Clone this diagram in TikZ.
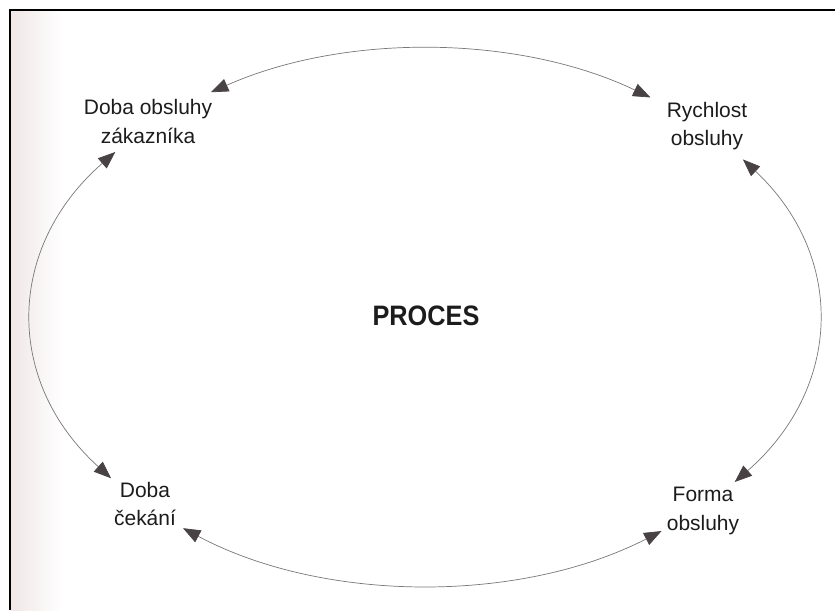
\documentclass[tikz,border=0pt]{standalone}
\usepackage{fontspec}
\setmainfont{Liberation Sans}
\usetikzlibrary{arrows.meta,calc}

\definecolor{inkline}{RGB}{120,120,120}
\definecolor{inkhead}{RGB}{72,66,68}
\definecolor{inktext}{RGB}{28,28,28}
\definecolor{edgehaze}{RGB}{240,231,231}

\tikzset{
  label/.style={align=center, inner sep=0pt, text=inktext,
    font=\fontsize{17.9}{24.2}\selectfont},
  title/.style={inner sep=0pt, text=inktext, xscale=0.9,
    font=\fontsize{24}{28}\selectfont\bfseries},
  link/.style={draw=inkline, line width=0.6pt,
    {Triangle[length=0.52cm,width=0.4cm,fill=inkhead,color=inkhead]}-%
    {Triangle[length=0.52cm,width=0.4cm,fill=inkhead,color=inkhead]}},
  frame/.style={draw=black, line width=1.7pt}
}

\begin{document}
\begin{tikzpicture}[x=0.03cm,y=0.03cm]
  \useasboundingbox (0,0) rectangle (835,610);
  \fill[white] (0,0) rectangle (835,610);

  % greyish strip along the left edge of the page
  \shade[left color=edgehaze, right color=white] (11,0) rectangle (62,600);

  % page frame: top and left rules
  \draw[frame] (10,0) -- (10,600) -- (835,600);

  % centre of the cycle
  \coordinate (c) at (425,293);
  \node[title] (proc) at (426,294) {PROCES};

  % the four stations
  \node[label] (wait)  at (148,488.5) {Doba obsluhy\\zákazníka};
  \node[label] (speed) at (707,484)   {Rychlost\\obsluhy};
  \node[label] (delay) at (145,106)   {Doba\\čekání};
  \node[label] (form)  at (703,99)    {Forma\\obsluhy};

  % arc end points on the ellipse (radii 11.79cm and 8.04cm)
  \coordinate (t1) at ($(c)+(123:11.79cm and 8.04cm)$);
  \coordinate (r1) at ($(c)+(36:11.79cm and 8.04cm)$);
  \coordinate (b1) at ($(c)+(-53:11.79cm and 8.04cm)$);
  \coordinate (l1) at ($(c)+(142:11.79cm and 8.04cm)$);

  % double-headed arcs between neighbouring stations
  \draw[link] (t1) arc[start angle=123, end angle=55,   x radius=11.79cm, y radius=8.04cm];
  \draw[link] (r1) arc[start angle=36,  end angle=-38,  x radius=11.79cm, y radius=8.04cm];
  \draw[link] (b1) arc[start angle=-53, end angle=-128, x radius=11.79cm, y radius=8.04cm];
  \draw[link] (l1) arc[start angle=142, end angle=217,  x radius=11.79cm, y radius=8.04cm];
\end{tikzpicture}
\end{document}
